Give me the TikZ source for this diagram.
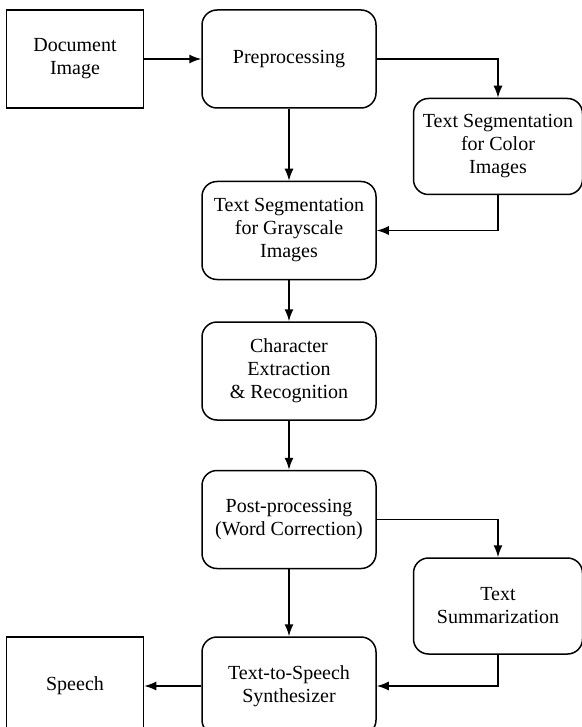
\documentclass[tikz,border=0pt]{standalone}
\usepackage{fontspec}
\setmainfont{Liberation Serif}
\usepackage{tikz}
\usetikzlibrary{arrows.meta,positioning}

\begin{document}
\begin{tikzpicture}
[x=1pt,y=1pt,auto=left,
 every node/.style={draw=black,line width=1.5pt,align=center,inner sep=0pt,
   font=\fontsize{20}{23}\selectfont},
 stage/.style={rounded corners=15pt,minimum width=174pt,minimum height=98pt},
 sidestage/.style={rounded corners=15pt,minimum width=169pt,minimum height=96pt},
 io/.style={rectangle,minimum width=137pt,minimum height=98pt},
 flow/.style={-{Latex[length=12pt,width=9pt]},line width=1.5pt}]
\useasboundingbox (0,0) rectangle (581,-727);

\node[stage] (Prep) at (289,-59) {Preprocessing};
\node[io,left=57pt of Prep] (Doc) {Document\\Image};
\node[sidestage,below right=-11pt and 36pt of Prep] (SegC) {Text Segmentation\\for Color\\Images};
\node[stage,below=72pt of Prep] (SegG) {Text Segmentation\\for Grayscale\\Images};
\node[stage,below=41pt of SegG] (Char) {Character\\Extraction\\\& Recognition};
\node[stage,below=49pt of Char] (Post) {Post-processing\\(Word Correction)};
\node[sidestage,below right=-12pt and 36pt of Post] (Summ) {Text\\Summarization};
\node[stage,below=67pt of Post] (TTS) {Text-to-Speech\\Synthesizer};
\node[io,left=57pt of TTS] (Speech) {Speech};

\draw[flow] (Doc) -- (Prep);
\draw[flow] (Prep.east) -| (SegC.north);
\draw[flow] (Prep) -- (SegG);
\draw[flow] (SegC.south) |- (SegG.east);
\draw[flow] (SegG) -- (Char);
\draw[flow] (Char) -- (Post);
\draw[flow] (Post.east) -| (Summ.north);
\draw[flow] (Post) -- (TTS);
\draw[flow] (Summ.south) |- (TTS.east);
\draw[flow] (TTS) -- (Speech);
\end{tikzpicture}
\end{document}
